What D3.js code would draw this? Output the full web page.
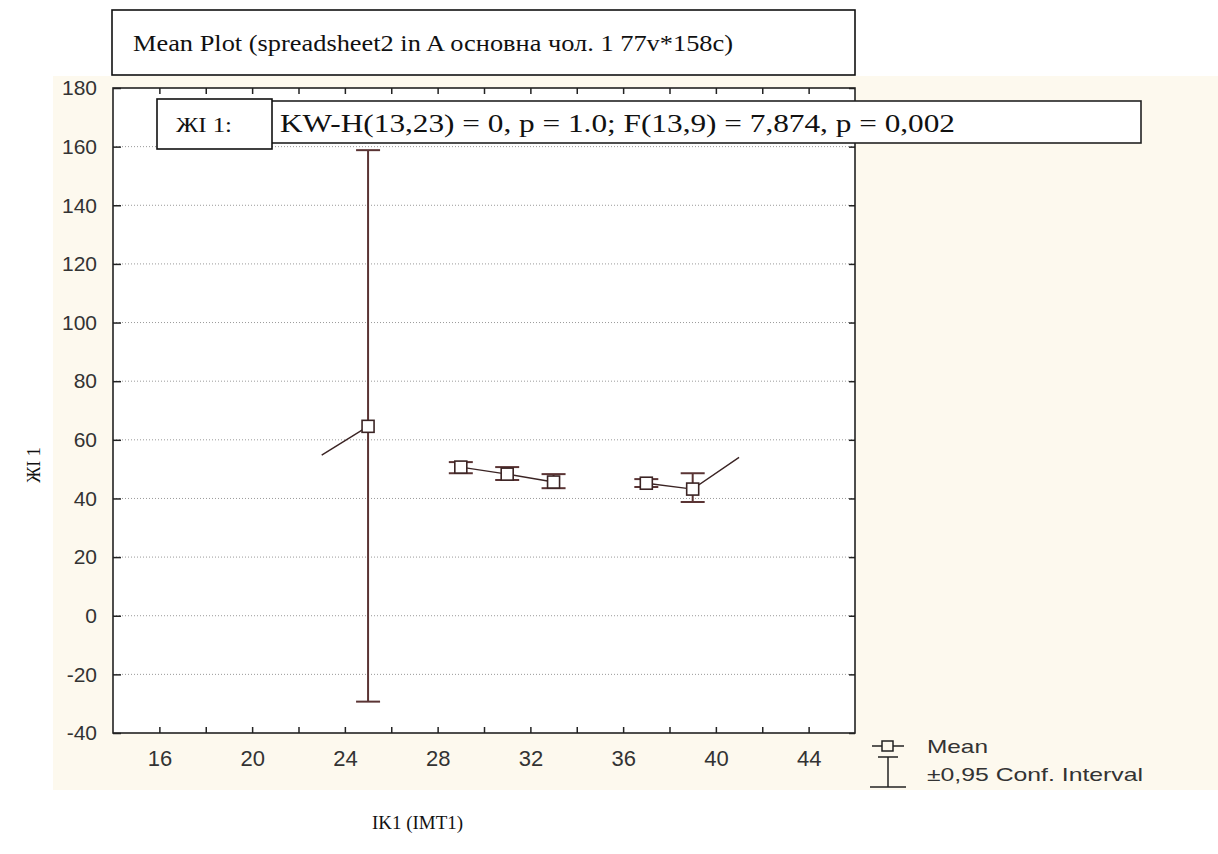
<!DOCTYPE html>
<html>
<head>
<meta charset="utf-8">
<script src="https://cdn.jsdelivr.net/npm/d3@7"></script>
<style>
  body { margin: 0; background: #fff; }
  svg { display: block; }
  .serif { font-family: "Liberation Serif", "Times New Roman", serif; fill: #111; }
  .sans { font-family: "Liberation Sans", Arial, sans-serif; fill: #333; }
</style>
</head>
<body>
<svg id="main" width="1218" height="854"></svg>
<script>
// group centres on the IK1 axis and the mean / 95% CI
var groupX = [25, 29, 31, 33, 37, 39];
var means = [64.6, 50.7, 48.3, 45.6, 45.2, 43.2];
var ciLow = [-29.3, 48.6, 46.3, 43.5, 43.9, 38.8];
var ciHigh = [158.8, 52.4, 50.7, 48.3, 46.6, 48.6];

// the connecting line is broken where groups are empty; it also runs
// off to two unmarked ends at x=23 and x=41
var segments = [[0], [1, 2, 3], [4, 5]];
var leadIn = {x: 23, y: 54.8};
var leadOut = {x: 41, y: 54};

var xTicks = [16, 18, 20, 22, 24, 26, 28, 30, 32, 34, 36, 38, 40, 42, 44];
var yTicks = [-40, -20, 0, 20, 40, 60, 80, 100, 120, 140, 160, 180];

var titleText = "Mean Plot (spreadsheet2 in A основна чол. 1 77v*158c)";
var statLabel = "ЖІ 1:";
var statText = "KW-H(13,23) = 0, p = 1.0;  F(13,9) = 7,874, p = 0,002";
var yTitle = "ЖІ 1";
var xTitle = "IK1 (IMT1)";
var legendItems = ["Mean", "±0,95 Conf. Interval"];
var legendWidths = [61, 216];

var svg = d3.select("#main");
var plot = {left: 113, top: 88, right: 855, bottom: 733};
var lineCol = "#3b2424", ciCol = "#5a3434";

var x = d3.scaleLinear().domain([14, 46]).range([plot.left, plot.right]);
var y = d3.scaleLinear().domain([-40, 180]).range([plot.bottom, plot.top]);

// cream panel behind the plot
svg.append("rect")
  .attr("x", 53).attr("y", 76)
  .attr("width", 1218 - 53).attr("height", 790 - 76)
  .style("fill", "#fdf9ee");

svg.append("rect")
  .attr("x", plot.left).attr("y", plot.top)
  .attr("width", plot.right - plot.left).attr("height", plot.bottom - plot.top)
  .style("fill", "#fff");

// dotted grid
svg.append("g")
  .selectAll("line")
  .data(yTicks.filter(function(d) { return d > -40 && d < 180; }))
  .join("line")
  .attr("x1", plot.left).attr("x2", plot.right)
  .attr("y1", function(d) { return y(d); })
  .attr("y2", function(d) { return y(d); })
  .style("stroke", "#9a9a9a")
  .style("stroke-width", 1)
  .style("stroke-dasharray", "1,2");

/* =========== axes =========== */
var yAxis = svg.append("g")
  .attr("transform", "translate(" + plot.left + ",0)")
  .call(d3.axisLeft(y).tickValues(yTicks).tickSize(-8).tickPadding(16)
    .tickFormat(function(d) { return String(d); }));
var yRight = svg.append("g")
  .attr("transform", "translate(" + plot.right + ",0)")
  .call(d3.axisRight(y).tickValues(yTicks).tickSize(-6).tickFormat(""));
var xAxis = svg.append("g")
  .attr("transform", "translate(0," + plot.bottom + ")")
  .call(d3.axisBottom(x).tickValues(xTicks).tickSize(-6).tickPadding(17)
    .tickFormat(function(d) { return d % 4 === 0 ? String(d) : ""; }));
var xTop = svg.append("g")
  .attr("transform", "translate(0," + plot.top + ")")
  .call(d3.axisTop(x).tickValues(xTicks).tickSize(-6).tickFormat(""));

[yAxis, yRight, xAxis, xTop].forEach(function(g) {
  g.select(".domain").remove();
  g.selectAll(".tick line").style("stroke", "#222").style("stroke-width", 1.5);
});
yAxis.selectAll("text").attr("class", "sans").style("font-size", "21px");
xAxis.selectAll("text").attr("class", "sans").style("font-size", "22px");

svg.append("rect")
  .attr("x", plot.left).attr("y", plot.top)
  .attr("width", plot.right - plot.left).attr("height", plot.bottom - plot.top)
  .style("fill", "none").style("stroke", "#222").style("stroke-width", 1.6);

/* =========== means and intervals =========== */
var pts = groupX.map(function(d, i) {
  return {x: d, y: means[i], lo: ciLow[i], hi: ciHigh[i]};
});
var line = d3.line().x(function(d) { return x(d.x); }).y(function(d) { return y(d.y); });

segments.forEach(function(seg, k) {
  var p = seg.map(function(i) { return pts[i]; });
  if (k === 0) p.unshift(leadIn);
  if (k === segments.length - 1) p.push(leadOut);
  svg.append("path").attr("d", line(p))
    .style("fill", "none").style("stroke", lineCol).style("stroke-width", 1.4);
});

var capW = 24;
var bars = svg.append("g").selectAll("g").data(pts).join("g");
bars.append("line")
  .attr("x1", function(d) { return x(d.x); }).attr("x2", function(d) { return x(d.x); })
  .attr("y1", function(d) { return y(d.lo); }).attr("y2", function(d) { return y(d.hi); });
bars.append("line")
  .attr("x1", function(d) { return x(d.x) - capW / 2; }).attr("x2", function(d) { return x(d.x) + capW / 2; })
  .attr("y1", function(d) { return y(d.hi); }).attr("y2", function(d) { return y(d.hi); });
bars.append("line")
  .attr("x1", function(d) { return x(d.x) - capW / 2; }).attr("x2", function(d) { return x(d.x) + capW / 2; })
  .attr("y1", function(d) { return y(d.lo); }).attr("y2", function(d) { return y(d.lo); });
bars.selectAll("line").style("stroke", ciCol).style("stroke-width", 2);

bars.append("rect")
  .attr("x", function(d) { return x(d.x) - 6; })
  .attr("y", function(d) { return y(d.y) - 6; })
  .attr("width", 12).attr("height", 12)
  .style("fill", "#fff").style("stroke", lineCol).style("stroke-width", 1.6);

/* =========== boxes and titles =========== */
svg.append("rect").attr("x", 112).attr("y", 10).attr("width", 743).attr("height", 65)
  .style("fill", "#fff").style("stroke", "#111").style("stroke-width", 1.6);
svg.append("text").attr("class", "serif")
  .attr("x", 133).attr("y", 51)
  .attr("textLength", 600).attr("lengthAdjust", "spacingAndGlyphs")
  .style("font-size", "23px")
  .text(titleText);

svg.append("rect").attr("x", 268).attr("y", 101).attr("width", 873).attr("height", 42)
  .style("fill", "#fff").style("stroke", "#222").style("stroke-width", 1.6);
svg.append("text").attr("class", "serif")
  .attr("x", 280).attr("y", 132)
  .attr("textLength", 675).attr("lengthAdjust", "spacingAndGlyphs")
  .style("font-size", "25px")
  .text(statText);

svg.append("rect").attr("x", 157).attr("y", 99).attr("width", 115).attr("height", 50)
  .style("fill", "#fff").style("stroke", "#111").style("stroke-width", 1.6);
svg.append("text").attr("class", "serif")
  .attr("x", 176).attr("y", 132)
  .attr("textLength", 56).attr("lengthAdjust", "spacingAndGlyphs")
  .style("font-size", "22px")
  .text(statLabel);

svg.append("text").attr("class", "serif")
  .attr("transform", "translate(40,465) rotate(-90)")
  .attr("text-anchor", "middle")
  .style("font-size", "18px")
  .text(yTitle);

svg.append("text").attr("class", "serif")
  .attr("x", 372).attr("y", 829)
  .attr("textLength", 91).attr("lengthAdjust", "spacingAndGlyphs")
  .style("font-size", "18px")
  .text(xTitle);

/* =========== legend =========== */
var lg = svg.append("g").attr("transform", "translate(870,746)");
lg.append("line").attr("x1", 2).attr("x2", 34).attr("y1", 0).attr("y2", 0)
  .style("stroke", "#222").style("stroke-width", 1.5);
lg.append("rect").attr("x", 12).attr("y", -5).attr("width", 11).attr("height", 10)
  .style("fill", "#fdf9ee").style("stroke", "#222").style("stroke-width", 1.5);
lg.append("line").attr("x1", 8).attr("x2", 28).attr("y1", 11).attr("y2", 11)
  .style("stroke", "#222").style("stroke-width", 1.5);
lg.append("line").attr("x1", 18).attr("x2", 18).attr("y1", 11).attr("y2", 41)
  .style("stroke", "#222").style("stroke-width", 1.5);
lg.append("line").attr("x1", 0).attr("x2", 36).attr("y1", 41).attr("y2", 41)
  .style("stroke", "#222").style("stroke-width", 1.5);
lg.selectAll("text.item").data(legendItems).join("text")
  .attr("class", "sans item")
  .attr("x", 57)
  .attr("y", function(d, i) { return 7 + i * 28; })
  .attr("textLength", function(d, i) { return legendWidths[i]; })
  .attr("lengthAdjust", "spacingAndGlyphs")
  .style("font-size", "19px")
  .text(function(d) { return d; });
</script>
</body>
</html>
